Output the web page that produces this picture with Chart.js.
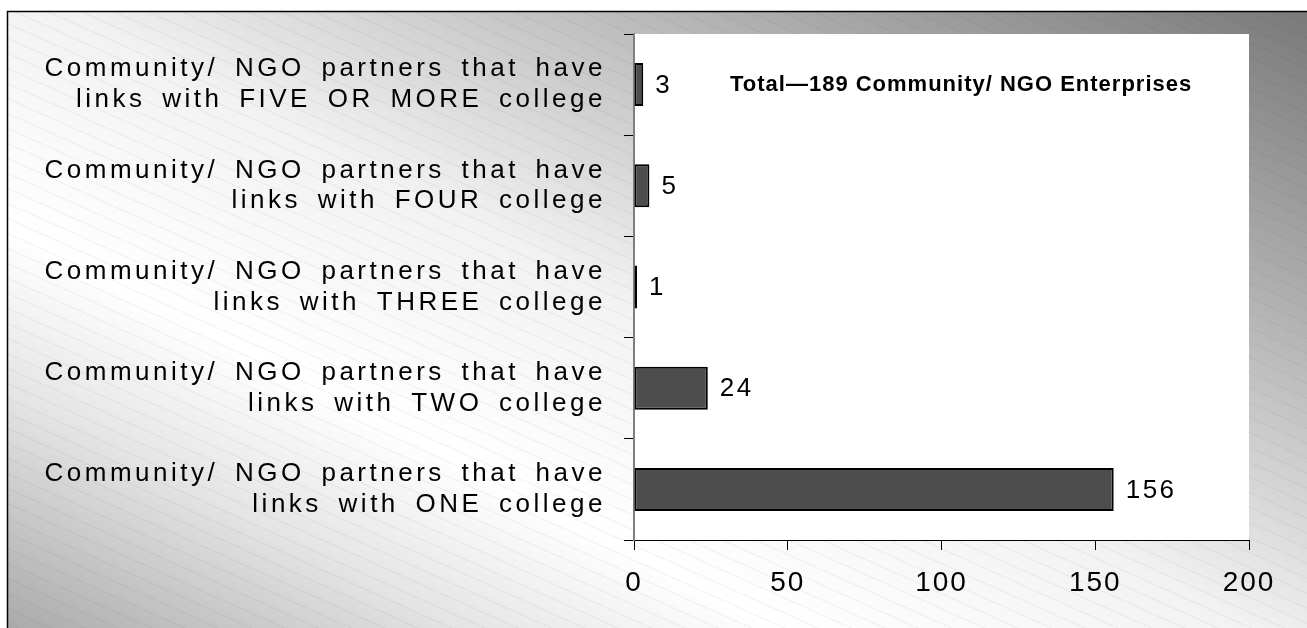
<!DOCTYPE html>
<html>
<head>
<meta charset="utf-8">
<title>Community / NGO partners by number of college links</title>
<script src="https://cdn.jsdelivr.net/npm/chart.js@4/dist/chart.umd.min.js"></script>
<style>
  html, body { margin: 0; padding: 0; background: #fff; }
  #wrap { width: 1307px; height: 628px; position: relative; }
</style>
</head>
<body>
<div id="wrap"><canvas id="chart" width="1307" height="628"></canvas></div>
<script>
// Categories, top to bottom, each split over two lines
const categoryLines = [
  ['Community/ NGO partners that have', 'links with FIVE OR MORE college'],
  ['Community/ NGO partners that have', 'links with FOUR college'],
  ['Community/ NGO partners that have', 'links with THREE college'],
  ['Community/ NGO partners that have', 'links with TWO college'],
  ['Community/ NGO partners that have', 'links with ONE college']
];
// Number of partners in each category
const partnerCounts = [3, 5, 1, 24, 156];
// Value axis ticks
const xTickValues = [0, 50, 100, 150, 200];
const totalLabel = 'Total\u2014189 Community/ NGO Enterprises';

const FONT = '"Liberation Sans", Arial, Helvetica, sans-serif';

// Shaded slide background, outer frame and white plot area
const backdrop = {
  id: 'backdrop',
  beforeDraw(chart) {
    const { ctx, width, height, chartArea } = chart;
    ctx.save();
    ctx.fillStyle = '#ffffff';
    ctx.fillRect(0, 0, width, height);

    const fx = 7, fy = 11;
    // light band running down-right, darker towards top-right and bottom-left
    const g = ctx.createLinearGradient(360, -520, -200, 560);
    g.addColorStop(0.0, '#727272');
    g.addColorStop(0.25, '#b0b0b0');
    g.addColorStop(0.5, '#f2f2f2');
    g.addColorStop(0.68, '#ffffff');
    g.addColorStop(0.8, '#e4e4e4');
    g.addColorStop(1.0, '#a0a0a0');
    ctx.fillStyle = g;
    ctx.fillRect(fx, fy, width - fx, height - fy);

    // fine diagonal streaks
    ctx.beginPath();
    ctx.rect(fx, fy, width - fx, height - fy);
    ctx.clip();
    ctx.lineWidth = 1;
    ctx.strokeStyle = 'rgba(60,60,60,0.07)';
    for (let c = -700; c < height + 40; c += 15) {
      ctx.beginPath();
      ctx.moveTo(0, c);
      ctx.lineTo(width, c + width * 0.45);
      ctx.stroke();
    }
    ctx.restore();

    ctx.save();
    ctx.strokeStyle = '#000';
    ctx.lineWidth = 1.5;
    ctx.beginPath();
    ctx.moveTo(fx + 0.5, height + 2);
    ctx.lineTo(fx + 0.5, fy + 0.5);
    ctx.lineTo(width + 2, fy + 0.5);
    ctx.stroke();

    ctx.fillStyle = '#ffffff';
    ctx.fillRect(chartArea.left, chartArea.top, chartArea.right - chartArea.left, chartArea.bottom - chartArea.top);
    ctx.restore();
  }
};

// Letter and word spacing for the axis labels
const spacedLabels = {
  id: 'spacedLabels',
  afterLayout(chart) {
    const spacing = { x: ['2px', '0px'], y: ['3.5px', '6px'] };
    Object.keys(spacing).forEach(id => {
      const scale = chart.scales[id];
      if (!scale || scale._spaced) return;
      const base = scale.drawLabels;
      scale.drawLabels = function (area) {
        const c = this.ctx;
        c.save();
        c.letterSpacing = spacing[id][0];
        c.wordSpacing = spacing[id][1];
        base.call(this, area);
        c.restore();
      };
      scale._spaced = true;
    });
  }
};

// Count at the end of each bar, plus the total note
const annotations = {
  id: 'annotations',
  afterDatasetsDraw(chart) {
    const { ctx, chartArea } = chart;
    const meta = chart.getDatasetMeta(0);
    ctx.save();
    ctx.fillStyle = '#000';
    ctx.letterSpacing = '2.5px';
    ctx.font = '26px ' + FONT;
    ctx.textAlign = 'left';
    ctx.textBaseline = 'middle';
    meta.data.forEach((bar, i) => {
      ctx.fillText(String(partnerCounts[i]), bar.x + 12, bar.y + 1);
    });
    ctx.letterSpacing = '1px';
    ctx.font = 'bold 22px ' + FONT;
    ctx.fillText(totalLabel, chartArea.left + 96, chartArea.top + 51);
    ctx.restore();
  }
};

function noScalePadding(scale) {
  scale.paddingTop = 0;
  scale.paddingBottom = 0;
  scale.paddingLeft = 0;
  scale.paddingRight = 0;
}

new Chart(document.getElementById('chart'), {
  type: 'bar',
  data: {
    labels: categoryLines,
    datasets: [{
      data: partnerCounts,
      backgroundColor: '#4d4d4d',
      borderColor: '#000000',
      borderWidth: 2,
      borderSkipped: false,
      barPercentage: 0.425,
      categoryPercentage: 1
    }]
  },
  options: {
    indexAxis: 'y',
    responsive: false,
    animation: false,
    devicePixelRatio: 1,
    layout: { padding: { left: 0, top: 34, right: 58, bottom: 0 } },
    plugins: {
      legend: { display: false },
      tooltip: { enabled: false },
      title: { display: false }
    },
    scales: {
      x: {
        type: 'linear',
        min: 0,
        max: 200,
        afterBuildTicks(scale) {
          scale.ticks = xTickValues.map(v => ({ value: v }));
        },
        afterFit(scale) { scale.height = 88; noScalePadding(scale); },
        ticks: {
          color: '#000',
          font: { family: FONT, size: 28 },
          padding: 16,
          maxRotation: 0
        },
        grid: {
          drawOnChartArea: false,
          drawTicks: true,
          tickLength: 10,
          tickColor: '#000',
          tickWidth: 1
        },
        border: { color: '#000', width: 1 }
      },
      y: {
        afterFit(scale) { scale.width = 634; noScalePadding(scale); },
        ticks: {
          color: '#000',
          font: { family: FONT, size: 26, lineHeight: 1.19 },
          padding: 18,
          crossAlign: 'near'
        },
        grid: {
          offset: true,
          drawOnChartArea: false,
          drawTicks: true,
          tickLength: 10,
          tickColor: '#000',
          tickWidth: 1
        },
        border: { color: '#7f7f7f', width: 2 }
      }
    }
  },
  plugins: [backdrop, spacedLabels, annotations]
});
</script>
</body>
</html>
